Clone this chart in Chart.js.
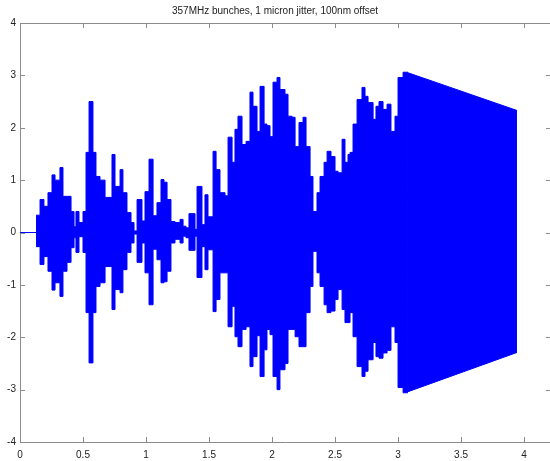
<!DOCTYPE html>
<html>
<head>
<meta charset="utf-8">
<script src="https://cdn.jsdelivr.net/npm/chart.js@4/dist/chart.umd.min.js"></script>
<style>
html,body{margin:0;padding:0;background:#fff;overflow:hidden;}
#wrap{width:550px;height:461px;position:relative;}
</style>
</head>
<body>
<div id="wrap"><canvas id="c" width="550" height="461"></canvas></div>
<script>
// Title and ticks
const titleText = "357MHz bunches, 1 micron jitter, 100nm offset";
const xTickValues = [0, 0.5, 1, 1.5, 2, 2.5, 3, 3.5, 4];
const yTickValues = [-4, -3, -2, -1, 0, 1, 2, 3, 4];

// Envelope steps of the oscillating signal (start of each step, upper and lower extent)
const stepX = [
  0.127,0.159,0.190,0.222,0.254,0.278,0.317,0.341,0.373,0.405,
  0.429,0.444,0.468,0.500,0.524,0.548,0.579,0.603,0.635,0.675,
  0.730,0.754,0.794,0.817,0.849,0.881,0.905,0.929,0.968,0.992,
  1.024,1.056,1.087,1.119,1.143,1.167,1.198,1.230,1.270,1.294,
  1.317,1.341,1.389,1.405,1.444,1.468,1.492,1.532,1.556,1.587,
  1.627,1.651,1.683,1.706,1.730,1.762,1.794,1.825,1.849,1.881,
  1.905,1.937,1.960,1.984,2.008,2.040,2.063,2.103,2.127,2.159,
  2.183,2.214,2.246,2.270,2.302,2.325,2.357,2.381,2.413,2.437,
  2.468,2.500,2.524,2.556,2.579,2.603,2.619,2.643,2.675,2.714,
  2.738,2.762,2.802,2.825,2.849,2.881,2.913,2.944,2.976,3.000,
  3.040,3.079
];
const upper = [
  0.33,0.63,0.50,0.76,1.10,1.00,1.24,0.69,0.69,0.40,
  0.11,0.40,0.19,0.40,1.53,2.50,1.53,1.07,1.00,0.67,
  1.49,0.88,1.20,0.76,0.38,0.19,0.03,0.63,0.22,0.78,
  1.40,0.32,0.57,1.01,0.96,0.63,0.21,0.19,0.25,0.12,
  0.09,0.36,0.06,0.88,0.15,0.72,0.30,1.55,1.20,0.76,
  0.70,1.82,1.34,1.97,2.22,1.68,1.74,2.68,2.41,1.93,
  2.79,2.07,2.04,1.83,2.87,2.96,2.73,2.64,2.22,2.20,
  1.64,2.10,2.20,1.64,1.07,0.40,0.76,1.07,1.34,1.55,
  1.45,1.17,1.14,1.78,1.34,1.49,1.53,2.07,2.54,2.77,
  2.60,2.48,2.16,2.41,2.50,2.35,2.45,1.93,2.22,2.96,
  3.06,3.06
];
const lower = [
  -0.27,-0.61,-0.46,-0.74,-1.10,-0.96,-1.22,-0.74,-0.57,-0.29,
  -0.10,-0.38,-0.08,-0.38,-1.53,-2.49,-1.53,-1.03,-0.96,-0.65,
  -1.47,-1.09,-1.15,-0.71,-0.38,-0.20,-0.03,-0.57,-0.20,-0.77,
  -1.38,-0.32,-0.52,-0.96,-0.94,-0.74,-0.20,-0.13,-0.20,-0.07,
  -0.10,-0.34,-0.07,-0.86,-0.27,-0.71,-0.33,-1.51,-1.28,-0.77,
  -0.77,-1.80,-1.41,-1.99,-2.18,-1.85,-1.80,-2.56,-2.37,-1.97,
  -2.75,-2.24,-1.85,-1.95,-2.75,-3.00,-2.62,-2.50,-1.85,-1.85,
  -1.99,-2.18,-2.18,-1.53,-1.03,-0.36,-0.77,-1.03,-1.38,-1.53,
  -1.50,-1.28,-1.09,-1.47,-1.72,-1.72,-1.53,-1.99,-2.56,-2.75,
  -2.65,-2.43,-2.10,-2.37,-2.40,-2.30,-2.25,-1.80,-2.10,-2.96,
  -3.06,-3.06
];

// Decaying tail at the end
const tailX = [3.079, 3.944];
const tailUpper = [3.05, 2.33];
const tailLower = [-3.04, -2.29];

// Baseline (signal at zero before the first bunch)
const zeroX = [0, 3.944];
const zeroY = [0, 0];

const BLUE = 'rgb(0,0,255)';
const AXIS = '#8c8c8c';
const TEXT = '#222';
const FONT = "'Liberation Sans', Arial, sans-serif";

const pts = (xs, ys) => xs.map((x, i) => ({x: x, y: ys[i]}));

const boxPlugin = {
  id: 'matlabBox',
  afterDraw(chart) {
    const {ctx, chartArea: a, scales: {x, y}} = chart;
    const L = 5;
    ctx.save();
    ctx.strokeStyle = AXIS;
    ctx.lineWidth = 1;
    ctx.beginPath();
    // top border
    ctx.moveTo(a.left, a.top + 0.5); ctx.lineTo(a.right, a.top + 0.5);
    xTickValues.forEach(v => {
      const px = Math.round(x.getPixelForValue(v)) + 0.5;
      ctx.moveTo(px, a.bottom); ctx.lineTo(px, a.bottom - L);
      ctx.moveTo(px, a.top); ctx.lineTo(px, a.top + L);
    });
    yTickValues.forEach(v => {
      const py = Math.round(y.getPixelForValue(v)) + 0.5;
      ctx.moveTo(a.left, py); ctx.lineTo(a.left + L, py);
      ctx.moveTo(a.right + 1, py); ctx.lineTo(a.right + 1 - L, py);
    });
    ctx.stroke();
    ctx.restore();
  }
};

new Chart(document.getElementById('c'), {
  type: 'line',
  data: {
    datasets: [
      {data: pts(zeroX, zeroY), borderColor: BLUE, borderWidth: 1, pointRadius: 0, fill: false},
      {data: pts(stepX, upper), borderColor: BLUE, backgroundColor: BLUE, borderWidth: 1, pointRadius: 0, stepped: 'before', fill: false},
      {data: pts(stepX, lower), borderColor: BLUE, backgroundColor: BLUE, borderWidth: 1, pointRadius: 0, stepped: 'before', fill: '-1'},
      {data: pts(tailX, tailUpper), borderColor: BLUE, backgroundColor: BLUE, borderWidth: 1, pointRadius: 0, fill: false},
      {data: pts(tailX, tailLower), borderColor: BLUE, backgroundColor: BLUE, borderWidth: 1, pointRadius: 0, fill: '-1'}
    ]
  },
  options: {
    responsive: false,
    animation: false,
    devicePixelRatio: 1,
    layout: {padding: 0},
    plugins: {
      legend: {display: false},
      tooltip: {enabled: false},
      title: {
        display: true, text: titleText, color: TEXT,
        font: {family: FONT, size: 10, weight: 'normal'},
        padding: {top: 5, bottom: 6}
      }
    },
    scales: {
      x: {
        type: 'linear', min: 0, max: 4.206,
        afterFit: s => { s.height = 19; },
        grid: {display: false, drawTicks: false},
        border: {display: true, color: AXIS, width: 1},
        ticks: {
          stepSize: 0.5, includeBounds: false, padding: 7, color: TEXT,
          maxRotation: 0, autoSkip: false,
          font: {family: FONT, size: 10},
          callback: v => String(v)
        },
        afterBuildTicks: s => { s.ticks = xTickValues.map(v => ({value: v})); }
      },
      y: {
        type: 'linear', min: -4, max: 4,
        afterFit: s => { s.width = 20; },
        grid: {display: false, drawTicks: false},
        border: {display: true, color: AXIS, width: 1},
        ticks: {
          stepSize: 1, padding: 4, color: TEXT,
          font: {family: FONT, size: 10},
          callback: v => String(v)
        },
        afterBuildTicks: s => { s.ticks = yTickValues.map(v => ({value: v})); }
      }
    }
  },
  plugins: [boxPlugin]
});
</script>
</body>
</html>
